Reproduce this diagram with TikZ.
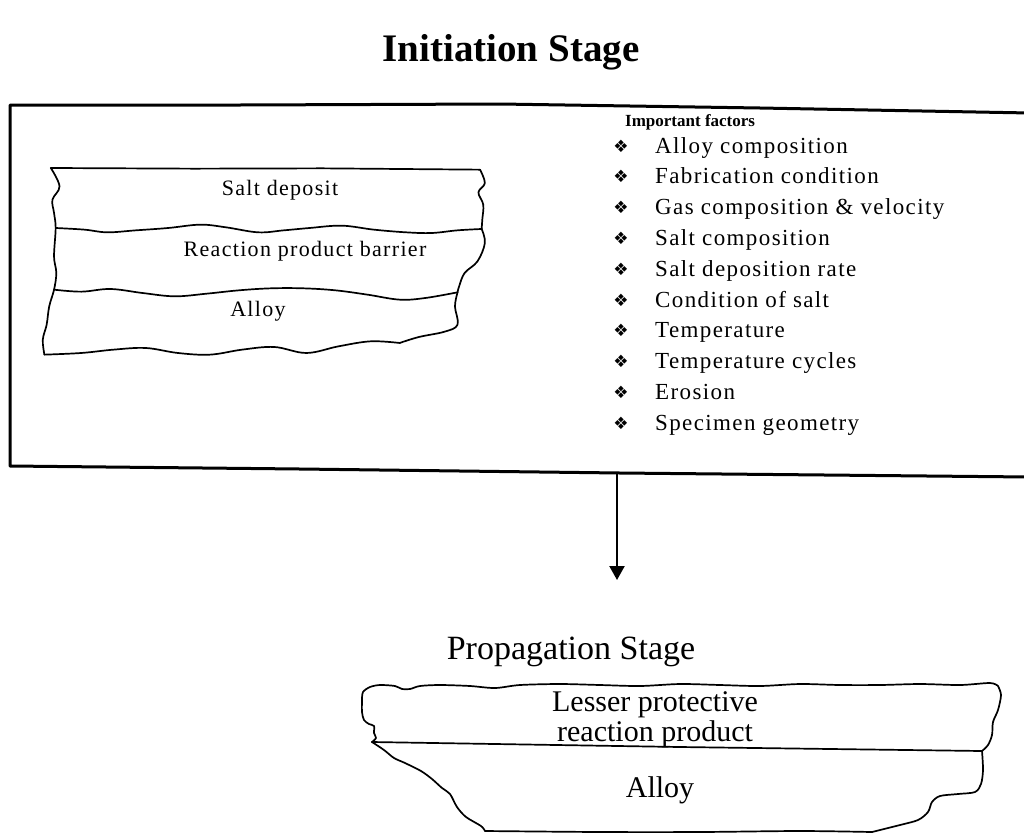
\documentclass[tikz,border=0pt]{standalone}
\usepackage{fontspec}
\setmainfont{Liberation Serif}
\newfontfamily\spacedA[LetterSpace=6]{Liberation Serif}
\newfontfamily\symf{DejaVu Sans}
\usetikzlibrary{arrows.meta}
\begin{document}
\begin{tikzpicture}[x=1pt,y=-1pt, line join=round, line cap=round,
  outline/.style={draw=black, line width=1.7pt},
  frame/.style={draw=black, line width=3pt},
  layertext/.style={font=\spacedA\fontsize{22}{26}\selectfont, inner sep=0pt},
  proptext/.style={font=\fontsize{30}{34}\selectfont, inner sep=0pt},
  itemtext/.style={anchor=base west, font=\spacedA\fontsize{23}{27}\selectfont, inner sep=0pt},
  bulletmark/.style={anchor=base, font=\symf\fontsize{17}{19}\selectfont, inner sep=0pt},
  heading/.style={font=\fontsize{39}{43}\selectfont\bfseries, inner sep=0pt},
  subheading/.style={font=\fontsize{34}{38}\selectfont, inner sep=0pt},
]
\useasboundingbox (0,0) rectangle (1024,838);

% Title
\node[heading] (title) at (511,52) {Initiation Stage};

% Big frame (open on the right)
\draw[frame] (1030,113) -- (760,108) -- (500,104) -- (240,105) -- (10,105) -- (10,466) -- (300,469) -- (620,473) -- (1030,477);
\coordinate (framebot) at (617,473);

% Layered specimen (coordinates in 3x zoom units)
\begin{scope}[shift={(1,133)}, x=0.3215pt, y=-0.3333pt]
  \draw[outline] (155,105) -- (600,107) -- (1000,106) -- (1490,110);
  \draw[outline] plot[smooth, tension=0.6] coordinates {(1490,110) (1505,150) (1485,178) (1500,215) (1497,260) (1495,288)};
  \draw[outline] plot[smooth, tension=0.6] coordinates {(170,285) (260,290) (330,298) (420,292) (520,285) (620,275) (700,283) (800,298) (880,292) (960,285) (1060,278) (1160,290) (1260,298) (1340,300) (1420,292) (1495,288)};
  \draw[outline] plot[smooth, tension=0.6] coordinates {(1495,288) (1505,330) (1482,385) (1442,420) (1425,460) (1420,478)};
  \draw[outline] plot[smooth, tension=0.6] coordinates {(165,470) (250,476) (340,468) (440,480) (540,490) (640,482) (740,472) (840,466) (940,466) (1040,472) (1140,485) (1240,500) (1320,495) (1420,478)};
  \draw[outline] plot[smooth, tension=0.6] coordinates {(1420,478) (1412,520) (1420,575) (1380,596) (1300,612) (1240,630)};
  \draw[outline] plot[smooth, tension=0.6] coordinates {(1240,630) (1150,625) (1050,640) (950,660) (850,642) (750,650) (650,665) (550,660) (450,645) (350,650) (250,660) (135,665)};
  \draw[outline] plot[smooth, tension=0.6] coordinates {(135,665) (130,620) (142,575) (150,520) (165,470) (172,420) (165,370) (170,285) (165,240) (160,200) (182,160) (155,105)};
\end{scope}
\node[layertext] (salt) at (280,190) {Salt deposit};
\node[layertext] (barrier) at (305,251) {Reaction product barrier};
\node[layertext] (alloyA) at (258,311) {Alloy};

% Important factors list
\node[anchor=base west, font=\fontsize{17}{20}\selectfont\bfseries, inner sep=0pt] (factors) at (625,126) {Important factors};
\foreach \t [count=\i] in {Alloy composition, Fabrication condition, Gas composition \& velocity, Salt composition, Salt deposition rate, Condition of salt, Temperature, Temperature cycles, Erosion, Specimen geometry} {
  \node[bulletmark] (b\i) at (621,{152+30.8*(\i-1)}) {❖};
  \node[itemtext] (f\i) at (655,{153+30.8*(\i-1)}) {\t};
}

% Arrow
\coordinate (arrowtip) at (617,580);
\draw[line width=2.2pt, -{Triangle[width=15pt,length=14pt]}] (framebot) -- (arrowtip);

% Propagation stage
\node[subheading] (prop) at (571,652) {Propagation Stage};

% top-left corner and top line
\draw[outline] plot[smooth, tension=0.5] coordinates {(362,700) (363,692) (370,687) (380,685) (395,686) (402,689) (410,689) (420,686) (440,685) (470,686) (495,688) (520,685) (560,684) (600,685) (640,686) (680,684) (720,685) (760,686) (800,684) (840,685) (880,685) (920,684) (960,685) (990,683) (998,686)};
% right edge upper
\draw[outline] plot[smooth, tension=0.5] coordinates {(998,686) (1001,695) (998,710) (993,722) (992,735) (988,745) (982,751)};
% left edge upper
\draw[outline] plot[smooth, tension=0.5] coordinates {(362,700) (362,712) (364,720) (369,724) (374,726) (374,733) (376,738) (372,742)};
% boundary
\draw[outline] (372,742) -- (680,747) -- (982,751);
% right edge lower
\draw[outline] plot[smooth, tension=0.5] coordinates {(982,751) (983,770) (981,784) (975,792) (958,794) (940,796) (932,802) (928,812) (918,820) (900,825) (872,832)};
% bottom
\draw[outline] plot[smooth, tension=0.5] coordinates {(872,832) (800,831) (700,832) (600,832) (485,831)};
% left edge lower
\draw[outline] plot[smooth, tension=0.5] coordinates {(485,831) (481,826) (466,817) (457,807) (450,794) (442,788) (432,779) (421,771) (405,763) (394,758) (384,750) (372,742)};
\node[proptext] (lesser) at (655,705) {Lesser protective};
\node[proptext] (reaction) at (655,734) {reaction product};
\node[proptext] (alloyB) at (660,790) {Alloy};
\end{tikzpicture}
\end{document}
